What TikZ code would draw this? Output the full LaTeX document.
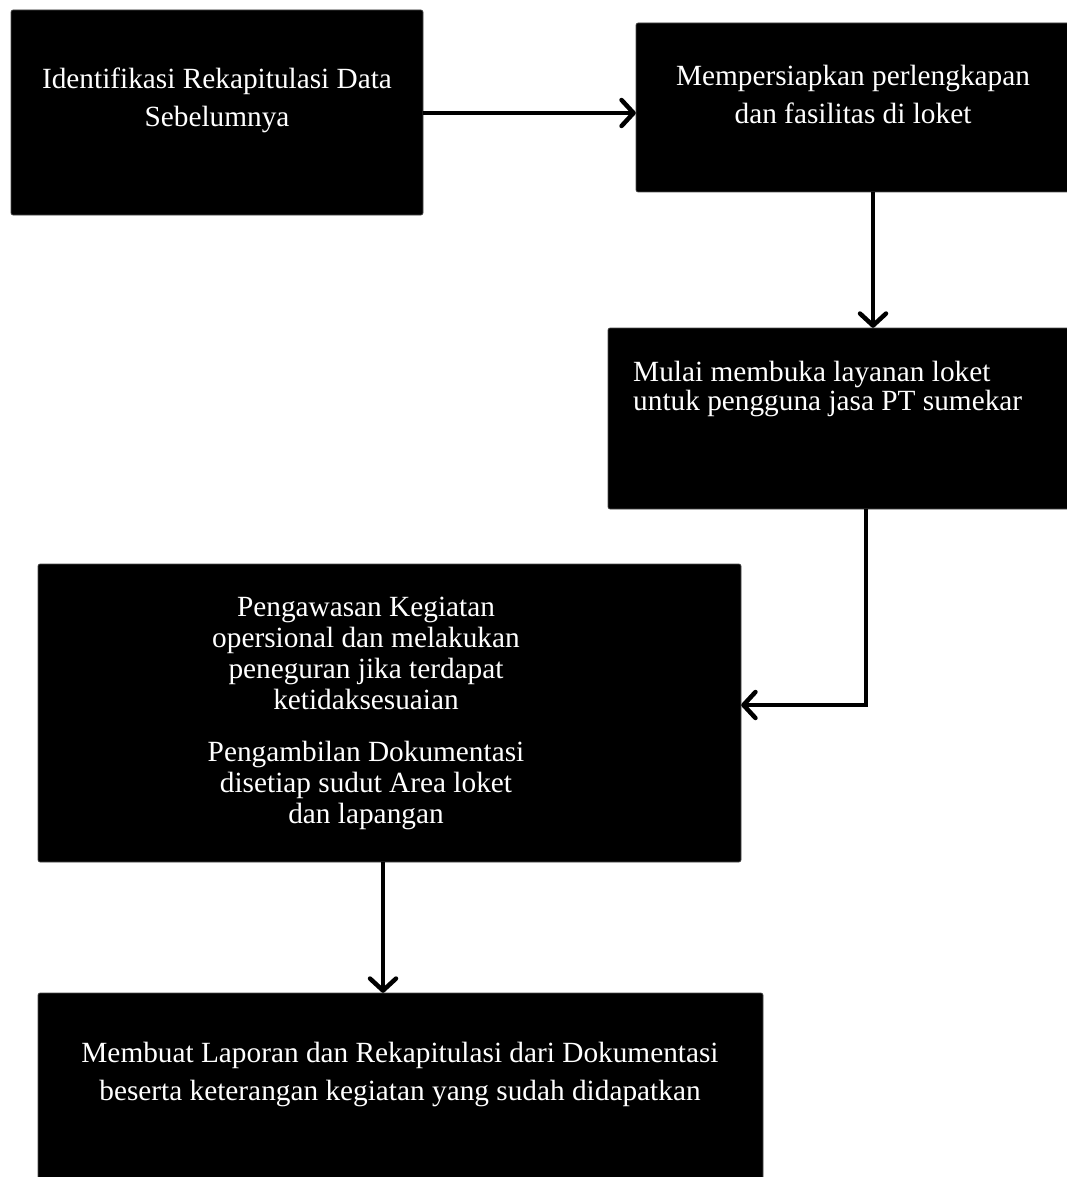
\documentclass[tikz,border=0pt]{standalone}
\usepackage{fontspec}
\setmainfont{Liberation Serif}
\usetikzlibrary{arrows.meta}
\begin{document}
\begin{tikzpicture}[x=1pt,y=-1pt,
  box/.style={fill=black,draw=black!70,line width=0.6pt,rounded corners=2pt},
  txt/.style={text=white,font=\fontsize{29.3}{38}\selectfont,inner sep=0pt,align=center},
  conn/.style={line width=4.5pt,draw=black,-{Straight Barb[length=12pt,width=26pt,line width=4.5pt,round]}}]
\useasboundingbox (0,0) rectangle (1067,1177);
\begin{scope}
\clip (0,0) rectangle (1067,1177);
% boxes
\path[box] (11,10) rectangle (423,215);
\node[inner sep=0pt,minimum width=412pt,minimum height=205pt] (b1) at (217,112.5) {};
\path[box] (636,23) rectangle (1075,192);
\node[inner sep=0pt,minimum width=439pt,minimum height=169pt] (b2) at (855.5,107.5) {};
\path[box] (608,328) rectangle (1075,509);
\node[inner sep=0pt,minimum width=467pt,minimum height=181pt] (b3) at (841.5,418.5) {};
\path[box] (38,564) rectangle (741,862);
\node[inner sep=0pt,minimum width=703pt,minimum height=298pt] (b4) at (389.5,713) {};
\path[box] (38,993) rectangle (763,1190);
\node[inner sep=0pt,minimum width=725pt,minimum height=197pt] (b5) at (400.5,1091.5) {};
\end{scope}
% texts
\node[txt] (t1) at (217,100) {Identifikasi Rekapitulasi Data\\Sebelumnya};
\node[txt] (t2) at (853,94) {Mempersiapkan perlengkapan\\dan fasilitas di loket};
\node[txt,align=left,anchor=west,font=\fontsize{29.3}{29}\selectfont] (t3) at (633,388.5) {Mulai membuka layanan loket\\untuk pengguna jasa PT sumekar};
\node[txt,font=\fontsize{29.3}{31}\selectfont] (t4) at (366,713.5) {Pengawasan Kegiatan\\opersional dan melakukan\\peneguran jika terdapat\\ketidaksesuaian\\[21pt]Pengambilan Dokumentasi\\disetiap sudut Area loket\\dan lapangan};
\node[txt] (t5) at (400,1074) {Membuat Laporan dan Rekapitulasi dari Dokumentasi\\beserta keterangan kegiatan yang sudah didapatkan};
% connectors
\coordinate (c3) at (866,705);
\draw[conn] (b1.east |- 0,113) -- (b2.west |- 0,113);
\draw[conn] (b2.south -| 873,0) -- (b3.north -| 873,0);
\draw[conn] (b3.south -| 866,0) -- (c3) -- (b4.east |- c3);
\draw[conn] (b4.south -| 383,0) -- (b5.north -| 383,0);
\end{tikzpicture}
\end{document}
